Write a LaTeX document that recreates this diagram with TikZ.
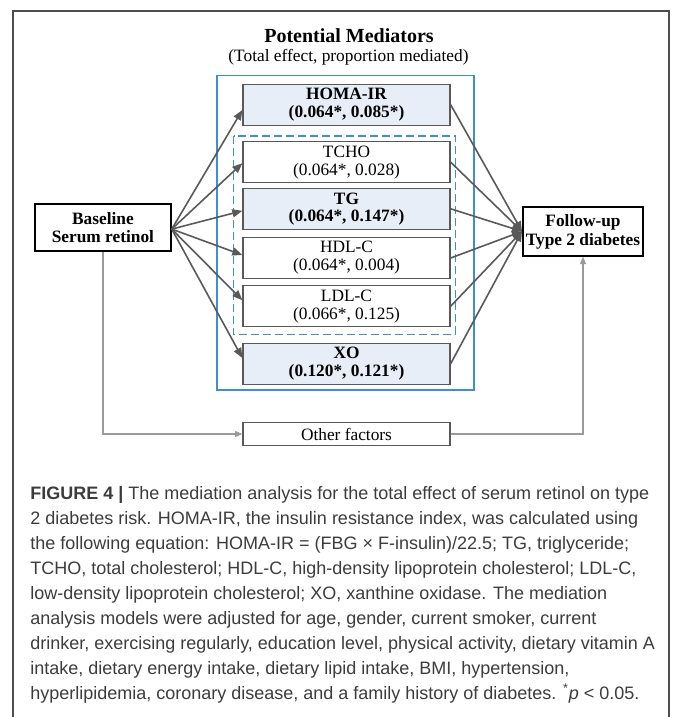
\documentclass[tikz,border=0pt]{standalone}
\usepackage{fontspec}
\setmainfont{Liberation Serif}
\newfontfamily\capfont{Liberation Sans}
\usetikzlibrary{arrows.meta,calc}
\definecolor{linegray}{HTML}{595959}
\definecolor{sidegray}{HTML}{9A9A9A}
\definecolor{framegray}{HTML}{4D4D4D}
\definecolor{medblue}{HTML}{3D8FD1}
\definecolor{medfill}{HTML}{E8EEF8}
\definecolor{capgray}{HTML}{3C3C3C}
\tikzset{
	medbox/.style={draw=linegray, line width=1pt, minimum width=155.25pt, minimum height=30.75pt,
		inner sep=0pt, align=center, font=\fontsize{13}{13.5}\selectfont},
	medbold/.style={medbox, fill=medfill, font=\fontsize{13}{13}\selectfont\bfseries},
	endbox/.style={draw=black, line width=1.5pt, inner sep=0pt, align=center,
		font=\fontsize{13}{14.2}\selectfont\bfseries},
	medarrow/.style={draw=linegray, line width=1.2pt, -{Triangle[length=7.5pt,width=6pt]}},
	sidearrow/.style={draw=sidegray, line width=0.9pt, -{Triangle[length=5.5pt,width=4.5pt]}}
}
\begin{document}
\begin{tikzpicture}[x=0.75pt,y=-0.75pt]
	\useasboundingbox (0,0) rectangle (672,717);
	\draw[framegray, line width=0.8pt] (13,717) -- (13,11) -- (669,11) -- (669,717);
	
	\node (title) at (349,36) {\fontsize{15}{15}\selectfont\bfseries Potential Mediators};
	\node (subtitle) at (348.5,57.5) {\fontsize{13}{13}\selectfont (Total effect, proportion mediated)};
	
	\draw[medblue, line width=0.8pt] (217,75.7) rectangle (474,390);
	\draw[medblue, line width=0.8pt, dash pattern=on 6pt off 3pt] (233.5,136) rectangle (455.3,334.3);
	
	\node[medbold] (homa) at (346.5,104.7) {HOMA-IR\\(0.064*, 0.085*)};
	\node[medbox] (tcho) at (346.5,162.2) {TCHO\\(0.064*, 0.028)};
	\node[medbold] (tg) at (346.5,208.8) {TG\\(0.064*, 0.147*)};
	\node[medbox] (hdl) at (346.5,258) {HDL-C\\(0.064*, 0.004)};
	\node[medbox] (ldl) at (346.5,306.2) {LDL-C\\(0.066*, 0.125)};
	\node[medbold] (xo) at (346.5,363.7) {XO\\(0.120*, 0.121*)};
	
	\node[endbox, minimum width=101.8pt, minimum height=35.25pt] (base) at (102.9,227.6) {Baseline\\Serum retinol};
	\node[endbox, minimum width=90pt, minimum height=36.5pt] (fup) at (583,231.4) {Follow-up\\Type 2 diabetes};
	\node[medbox, minimum height=17.25pt, line width=0.9pt] (other) at (346.5,434) {Other factors};
	
	\foreach \m/\d in {homa/5.3, tcho/1, tg/2, hdl/-3, ldl/-6, xo/-5.7}{
		\draw[medarrow] ($(base.east)+(0,1.5)$) -- ($(\m.west)+(0,\d)$);
		\draw[medarrow] (\m.east) -- (fup.west);
	}
	
	\draw[sidearrow] (base.south) |- (other.west);
	\draw[sidearrow] (other.east) -| (fup.south);
	
	\node[anchor=base west, align=left, inner sep=0pt, text=capgray,
		font=\capfont\fontsize{13.5}{18.75}\selectfont] (caption) at (30,699) {%
		\textbf{FIGURE 4 |} The mediation analysis for the total effect of serum retinol on type\\
		2 diabetes risk. HOMA-IR, the insulin resistance index, was calculated using\\
		the following equation: HOMA-IR = (FBG × F-insulin)/22.5; TG, triglyceride;\\
		TCHO, total cholesterol; HDL-C, high-density lipoprotein cholesterol; LDL-C,\\
		low-density lipoprotein cholesterol; XO, xanthine oxidase. The mediation\\
		analysis models were adjusted for age, gender, current smoker, current\\
		drinker, exercising regularly, education level, physical activity, dietary vitamin A\\
		intake, dietary energy intake, dietary lipid intake, BMI, hypertension,\\
		hyperlipidemia, coronary disease, and a family history of diabetes. \textsuperscript{*}\textit{p} < 0.05.};
\end{tikzpicture}
\end{document}
